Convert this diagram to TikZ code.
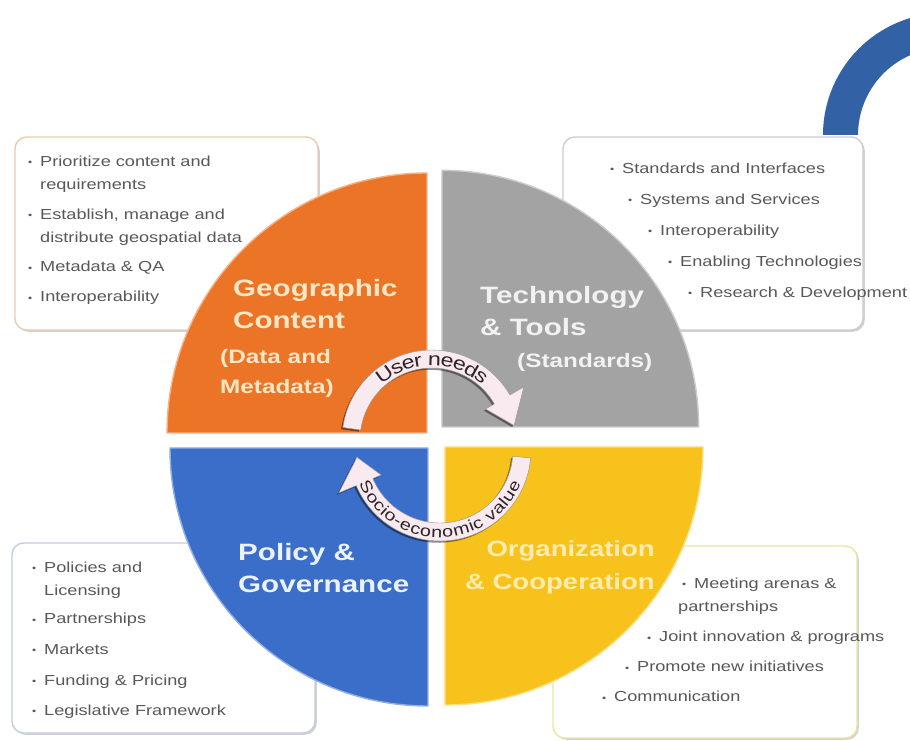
\documentclass[tikz,border=0pt]{standalone}
\usepackage{fontspec}
\setmainfont{Liberation Sans}[FakeStretch=1.25]
\usetikzlibrary{decorations.text, shadows}

\definecolor{geoorange}{RGB}{236, 116, 38}
\definecolor{techgray}{RGB}{163, 163, 163}
\definecolor{policyblue}{RGB}{58, 110, 200}
\definecolor{orgyellow}{RGB}{247, 194, 28}
\definecolor{geotext}{RGB}{252, 232, 200}
\definecolor{techtext}{RGB}{242, 242, 242}
\definecolor{policytext}{RGB}{236, 242, 252}
\definecolor{orgtext}{RGB}{253, 236, 176}
\definecolor{geoline}{RGB}{232, 205, 175}
\definecolor{techline}{RGB}{205, 205, 205}
\definecolor{policyline}{RGB}{195, 205, 220}
\definecolor{orgline}{RGB}{240, 226, 160}
\definecolor{listgray}{RGB}{88, 88, 88}
\definecolor{arcpink}{RGB}{248, 234, 238}
\definecolor{arctext}{RGB}{45, 35, 40}
\definecolor{ringblue}{RGB}{50, 98, 165}

\newcommand{\bul}{\makebox[0.36cm][l]{\raisebox{0.6pt}{\fontsize{8}{8}\selectfont\textbullet}}}
\newcommand{\needsfont}{\fontsize{15.9}{16}\selectfont}
\newcommand{\valuefont}{\fontsize{13.5}{14}\selectfont}

\begin{document}
\begin{tikzpicture}[
  infobox/.style={draw, fill=white, rounded corners=10pt, line width=1.2pt, inner sep=0pt,
    drop shadow={shadow xshift=1.5pt, shadow yshift=-1.5pt, fill=black, opacity=0.18}},
  listtext/.style={anchor=north west, align=left, inner sep=0pt, text=listgray, font=\fontsize{12.4}{19.6}\selectfont},
  quadtitle/.style={font=\fontsize{20.2}{27.5}\selectfont\bfseries, inner sep=0pt, align=left},
  quadsub/.style={font=\fontsize{16.6}{25.6}\selectfont\bfseries, inner sep=0pt, align=left},
  arrowband/.style={fill=arcpink, draw=black!40, line width=0.4pt,
    drop shadow={shadow xshift=-1.5pt, shadow yshift=-1.5pt, fill=black, opacity=0.45}}
]
  \clip (-13.08, -9.03) rectangle (14.22, 13.2);

  % Boxes behind the circle
  \node[infobox, draw=geoline, minimum width=9.09cm, minimum height=5.79cm] (geobox) at (-8.085, 6.195) {};
  \node[infobox, draw=techline, minimum width=9cm, minimum height=5.79cm] (techbox) at (8.31, 6.195) {};
  \node[infobox, draw=policyline, minimum width=9.09cm, minimum height=5.7cm] (policybox) at (-8.175, -5.94) {};
  \node[infobox, draw=orgline, minimum width=9.12cm, minimum height=5.76cm] (orgbox) at (8.07, -6.06) {};

  % Quadrants
  \filldraw[fill=geoorange, draw=geoorange!55!white, line width=1.2pt]
    (-0.27, 0.21) -- ++(-7.8, 0) arc[start angle=180, end angle=90, radius=7.8] -- cycle;
  \filldraw[fill=techgray, draw=techgray!55!white, line width=1.2pt]
    (0.18, 0.39) -- ++(0, 7.7) arc[start angle=90, end angle=0, radius=7.7] -- cycle;
  \filldraw[fill=policyblue, draw=policyblue!55!white, line width=1.2pt]
    (-0.24, -0.24) -- ++(0, -7.74) arc[start angle=270, end angle=180, radius=7.74] -- cycle;
  \filldraw[fill=orgyellow, draw=orgyellow!55!white, line width=1.2pt]
    (0.27, -0.21) -- ++(7.74, 0) arc[start angle=0, end angle=-90, radius=7.74] -- cycle;

  % Quadrant titles
  \node[quadtitle, text=geotext, anchor=north west] (geotitle) at (-6.09, 4.84) {Geographic\\Content};
  \node[quadsub, text=geotext, anchor=north west] (geosub) at (-6.48, 2.71) {(Data and\\Metadata)};
  \node[quadtitle, text=techtext, anchor=north west] (techtitle) at (1.32, 4.62) {Technology\\\& Tools};
  \node[quadsub, text=techtext, anchor=west] (techsub) at (2.43, 2.34) {(Standards)};
  \node[quadtitle, text=policytext, anchor=north west] (policytitle) at (-5.94, -3.09) {Policy \&\\Governance};
  \node[quadtitle, font=\fontsize{18.8}{27.5}\selectfont\bfseries, text=orgtext, anchor=north east, align=right]
    (orgtitle) at (6.57, -3.02) {Organization\\\& Cooperation};

  % User needs arrow
  \begin{scope}[shift={(-0.12, 0)}]
    \filldraw[arrowband] (172:2.7) arc[start angle=172, end angle=30, radius=2.7]
      -- (30:3.18) -- (10:2.5) -- (30:1.86) -- (30:2.16)
      arc[start angle=30, end angle=172, radius=2.16] -- cycle;
    \path[decorate, decoration={text along path, text={|\needsfont|User needs}, text color=arctext,
      text align=center, raise=-5.7pt}] (175:2.43) arc[start angle=175, end angle=5, radius=2.43];
  \end{scope}

  % Socio-economic value arrow
  \begin{scope}[shift={(0.12, -0.3)}]
    \filldraw[arrowband] (-5:2.73) arc[start angle=-5, end angle=-157, radius=2.73]
      -- (-157:3.3) -- (-175:2.5) -- (-157:1.92) -- (-157:2.19)
      arc[start angle=-157, end angle=-5, radius=2.19] -- cycle;
    \path[decorate, decoration={text along path, text={|\valuefont|Socio-economic value}, text color=arctext,
      text align=center, raise=-4.8pt}] (-178:2.46) arc[start angle=-178, end angle=-2, radius=2.46];
  \end{scope}

  % Lists
  \node[listtext] (geolist) at (-12.24, 8.54) {
    \bul Prioritize content and\\
    \hspace*{0.36cm}requirements\\[6pt]
    \bul Establish, manage and\\
    \hspace*{0.36cm}distribute geospatial data\\[6pt]
    \bul Metadata \& QA\\[6pt]
    \bul Interoperability
  };
  \node[listtext] (techlist) at (5.22, 8.33) {
    \bul Standards and Interfaces\\[6.9pt]
    \hspace*{0.54cm}\bul Systems and Services\\[6.9pt]
    \hspace*{1.14cm}\bul Interoperability\\[6.9pt]
    \hspace*{1.74cm}\bul Enabling Technologies\\[6.9pt]
    \hspace*{2.34cm}\bul Research \& Development
  };
  \node[listtext] (policylist) at (-12.12, -3.64) {
    \bul Policies and\\
    \hspace*{0.36cm}Licensing\\[5pt]
    \bul Partnerships\\[6.5pt]
    \bul Markets\\[7pt]
    \bul Funding \& Pricing\\[6pt]
    \bul Legislative Framework
  };
  \node[listtext] (orglist) at (4.98, -4.12) {
    \hspace*{2.4cm}\bul Meeting arenas \&\\
    \hspace*{2.28cm}partnerships\\[6.8pt]
    \hspace*{1.35cm}\bul Joint innovation \& programs\\[6pt]
    \hspace*{0.69cm}\bul Promote new initiatives\\[6pt]
    \bul Communication
  };

  % Blue ring in the corner
  \begin{scope}[shift={(15.27, 9.15)}]
    \fill[ringblue] (180:3.66) arc[start angle=180, end angle=60, radius=3.66]
      -- (60:2.61) arc[start angle=60, end angle=180, radius=2.61] -- cycle;
  \end{scope}
\end{tikzpicture}
\end{document}
